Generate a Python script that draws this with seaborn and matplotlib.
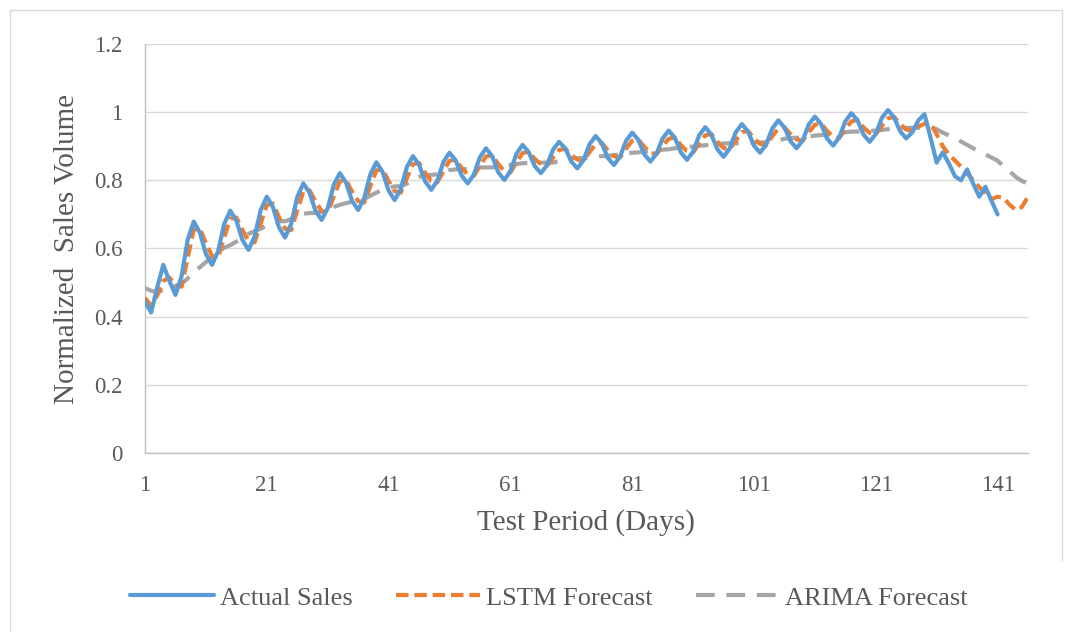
import matplotlib
matplotlib.use("Agg")
import matplotlib.pyplot as plt
import seaborn as sns
import pandas as pd
from matplotlib.lines import Line2D

actual_sales = [
    0.445, 0.412, 0.485, 0.552, 0.505, 0.464, 0.518, 0.625, 0.679, 0.647,
    0.584, 0.552, 0.592, 0.672, 0.711, 0.682, 0.625, 0.596, 0.635, 0.713,
    0.752, 0.722, 0.662, 0.632, 0.672, 0.751, 0.791, 0.764, 0.711, 0.684,
    0.718, 0.787, 0.821, 0.794, 0.740, 0.713, 0.748, 0.818, 0.853, 0.825,
    0.770, 0.742, 0.774, 0.839, 0.871, 0.846, 0.797, 0.772, 0.799, 0.854,
    0.881, 0.859, 0.814, 0.791, 0.817, 0.868, 0.894, 0.871, 0.824, 0.801,
    0.827, 0.878, 0.904, 0.883, 0.842, 0.821, 0.844, 0.890, 0.913, 0.894,
    0.855, 0.835, 0.859, 0.906, 0.930, 0.909, 0.866, 0.845, 0.869, 0.916,
    0.940, 0.919, 0.876, 0.855, 0.878, 0.923, 0.946, 0.925, 0.882, 0.860,
    0.884, 0.932, 0.956, 0.934, 0.891, 0.869, 0.893, 0.941, 0.965, 0.944,
    0.902, 0.881, 0.905, 0.952, 0.976, 0.955, 0.915, 0.894, 0.917, 0.964,
    0.987, 0.966, 0.923, 0.902, 0.926, 0.973, 0.997, 0.976, 0.934, 0.913,
    0.936, 0.983, 1.006, 0.985, 0.944, 0.923, 0.941, 0.976, 0.994, 0.925,
    0.852, 0.882, 0.850, 0.812, 0.800, 0.832, 0.790, 0.752, 0.781, 0.740,
    0.700,
]

lstm_forecast = [
    0.455, 0.432, 0.462, 0.505, 0.515, 0.492, 0.488, 0.571, 0.655, 0.659,
    0.616, 0.578, 0.574, 0.632, 0.687, 0.691, 0.654, 0.622, 0.618, 0.674,
    0.728, 0.732, 0.692, 0.658, 0.654, 0.712, 0.767, 0.771, 0.738, 0.710,
    0.706, 0.753, 0.797, 0.801, 0.767, 0.739, 0.735, 0.783, 0.829, 0.833,
    0.798, 0.768, 0.764, 0.807, 0.847, 0.851, 0.822, 0.798, 0.794, 0.827,
    0.857, 0.861, 0.836, 0.817, 0.813, 0.843, 0.870, 0.874, 0.848, 0.827,
    0.823, 0.853, 0.880, 0.884, 0.863, 0.847, 0.843, 0.867, 0.889, 0.893,
    0.874, 0.861, 0.857, 0.883, 0.906, 0.910, 0.888, 0.871, 0.867, 0.893,
    0.916, 0.920, 0.898, 0.881, 0.877, 0.901, 0.922, 0.926, 0.903, 0.886,
    0.882, 0.908, 0.932, 0.936, 0.913, 0.895, 0.891, 0.917, 0.941, 0.945,
    0.923, 0.907, 0.903, 0.929, 0.952, 0.956, 0.935, 0.920, 0.916, 0.941,
    0.963, 0.967, 0.945, 0.928, 0.924, 0.950, 0.973, 0.977, 0.955, 0.939,
    0.935, 0.960, 0.982, 0.986, 0.965, 0.949, 0.945, 0.958, 0.966, 0.967,
    0.935, 0.900, 0.876, 0.858, 0.840, 0.820, 0.800, 0.780, 0.762, 0.745,
    0.752, 0.748, 0.728, 0.713, 0.722, 0.752,
]

arima_forecast = [
    0.484, 0.476, 0.472, 0.478, 0.486, 0.490, 0.497, 0.512, 0.530, 0.545,
    0.560, 0.575, 0.590, 0.602, 0.610, 0.620, 0.632, 0.643, 0.651, 0.658,
    0.668, 0.677, 0.680, 0.680, 0.686, 0.695, 0.702, 0.704, 0.704, 0.708,
    0.715, 0.722, 0.728, 0.733, 0.737, 0.741, 0.745, 0.755, 0.764, 0.772,
    0.779, 0.782, 0.783, 0.790, 0.802, 0.810, 0.814, 0.816, 0.818, 0.824,
    0.830, 0.832, 0.832, 0.834, 0.837, 0.838, 0.838, 0.838, 0.841, 0.844,
    0.845, 0.848, 0.850, 0.851, 0.852, 0.852, 0.852, 0.852, 0.856, 0.861,
    0.865, 0.865, 0.865, 0.865, 0.868, 0.871, 0.872, 0.874, 0.876, 0.879,
    0.881, 0.882, 0.884, 0.885, 0.887, 0.890, 0.891, 0.894, 0.897, 0.898,
    0.899, 0.901, 0.903, 0.904, 0.906, 0.908, 0.909, 0.909, 0.909, 0.910,
    0.911, 0.911, 0.912, 0.914, 0.918, 0.922, 0.924, 0.925, 0.925, 0.928,
    0.931, 0.933, 0.933, 0.934, 0.937, 0.941, 0.943, 0.943, 0.944, 0.945,
    0.946, 0.948, 0.950, 0.953, 0.954, 0.954, 0.954, 0.954, 0.955, 0.956,
    0.950, 0.940, 0.932, 0.923, 0.914, 0.904, 0.894, 0.884, 0.876, 0.867,
    0.858, 0.840, 0.826, 0.810, 0.798, 0.791,
]

x_ticks = [1, 21, 41, 61, 81, 101, 121, 141]
y_ticks = [0, 0.2, 0.4, 0.6, 0.8, 1.0, 1.2]
y_tick_labels = ["0", "0.2", "0.4", "0.6", "0.8", "1", "1.2"]
series_names = ["Actual Sales", "LSTM Forecast", "ARIMA Forecast"]

BLUE = "#5B9BD5"
ORANGE = "#ED7D31"
GRAY = "#A5A5A5"
TEXT = "#595959"

sns.set_style("white")
plt.rcParams["font.family"] = ["Liberation Serif", "DejaVu Serif"]

df_actual = pd.DataFrame({"day": range(1, len(actual_sales) + 1), "value": actual_sales})
df_lstm = pd.DataFrame({"day": range(1, len(lstm_forecast) + 1), "value": lstm_forecast})
df_arima = pd.DataFrame({"day": range(1, len(arima_forecast) + 1), "value": arima_forecast})

fig = plt.figure(figsize=(10.70, 6.32), dpi=100)
ax = fig.add_axes([145 / 1070, (632 - 453) / 632, (1028 - 145) / 1070, (453 - 44) / 632])

lw = 3.0
sns.lineplot(data=df_arima, x="day", y="value", ax=ax, color=GRAY, linewidth=lw,
             label=series_names[2], zorder=3)
ax.lines[-1].set_dashes((4.5, 2.8))
ax.lines[-1].set_dash_capstyle("butt")
sns.lineplot(data=df_lstm, x="day", y="value", ax=ax, color=ORANGE, linewidth=lw,
             label=series_names[1], zorder=4)
ax.lines[-1].set_dashes((3.0, 1.4))
ax.lines[-1].set_dash_capstyle("butt")
sns.lineplot(data=df_actual, x="day", y="value", ax=ax, color=BLUE, linewidth=lw,
             label=series_names[0], zorder=5)
ax.lines[-1].set_solid_joinstyle("round")
ax.lines[-1].set_solid_capstyle("round")

ax.set_xlim(1, 146)
ax.set_ylim(0, 1.2)
ax.set_xticks(x_ticks)
ax.set_yticks(y_ticks)
ax.set_yticklabels(y_tick_labels)
ax.tick_params(axis="both", length=0, labelsize=16.5, labelcolor=TEXT)
ax.tick_params(axis="y", pad=16)
ax.tick_params(axis="x", pad=16)

ax.grid(axis="y", color="#D9D9D9", linewidth=1.0)
ax.grid(axis="x", visible=False)
ax.set_axisbelow(True)
for side in ["top", "right"]:
    ax.spines[side].set_visible(False)
for side in ["left", "bottom"]:
    ax.spines[side].set_color("#BFBFBF")
    ax.spines[side].set_linewidth(1.0)

ax.set_xlabel("Test Period (Days)", fontsize=21, color=TEXT)
ax.set_ylabel("Normalized  Sales Volume", fontsize=21, color=TEXT)
ax.xaxis.set_label_coords(0.499, -0.138)
ax.yaxis.set_label_coords(-0.074, 0.5)

ax.get_legend().remove()
handles = [
    Line2D([], [], color=BLUE, linewidth=lw),
    Line2D([], [], color=ORANGE, linewidth=lw, dashes=(3.0, 1.4), dash_capstyle="butt"),
    Line2D([], [], color=GRAY, linewidth=lw, dashes=(4.5, 2.8), dash_capstyle="butt"),
]
fig.legend(handles, series_names, loc="center", bbox_to_anchor=(0.513, 0.054), ncol=3,
           frameon=False, fontsize=19, handlelength=3.2, handletextpad=0.2,
           columnspacing=1.65, labelcolor=TEXT)

# light chart-area border
border_color = "#D9D9D9"
fig.add_artist(Line2D([10 / 1070, 1062 / 1070], [1 - 10 / 632, 1 - 10 / 632],
                      transform=fig.transFigure, color=border_color, linewidth=1.0))
fig.add_artist(Line2D([10 / 1070, 10 / 1070], [1 - 10 / 632, 0],
                      transform=fig.transFigure, color=border_color, linewidth=1.0))
fig.add_artist(Line2D([1062 / 1070, 1062 / 1070], [1 - 10 / 632, 1 - 560 / 632],
                      transform=fig.transFigure, color=border_color, linewidth=1.0))

fig.savefig("out.png", dpi=100, facecolor="white")
